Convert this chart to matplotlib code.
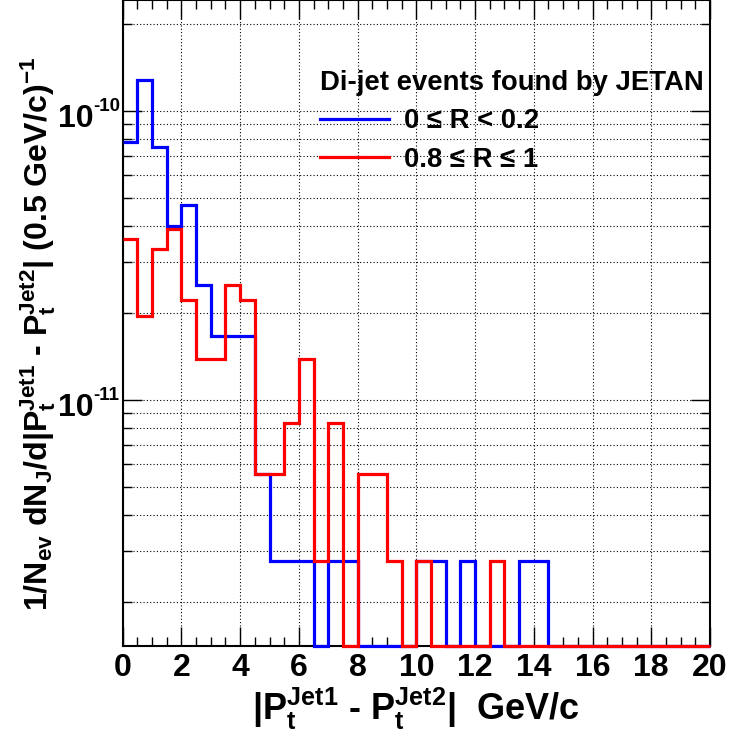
import numpy as np
import matplotlib
matplotlib.use('Agg')
import matplotlib.pyplot as plt
import matplotlib.transforms as mtransforms
from matplotlib.ticker import LogLocator, MultipleLocator, FixedLocator, FuncFormatter, NullFormatter

plt.rcParams['font.family'] = ['Liberation Sans', 'DejaVu Sans']
plt.rcParams['font.weight'] = 'bold'
plt.rcParams['axes.labelweight'] = 'bold'
plt.rcParams['mathtext.fontset'] = 'custom'
plt.rcParams['mathtext.rm'] = 'Liberation Sans:bold'
plt.rcParams['mathtext.bf'] = 'Liberation Sans:bold'
plt.rcParams['mathtext.it'] = 'Liberation Sans:bold'
plt.rcParams['mathtext.sf'] = 'Liberation Sans:bold'
plt.rcParams['mathtext.default'] = 'bf'

# ---- data ----
bin_edges = np.linspace(0.0, 20.0, 41)

blue_label = '0 \u2264 R < 0.2'
blue_values = [7.78e-11, 1.28e-10, 7.51e-11, 4.0e-11, 4.73e-11, 2.50e-11,
               1.67e-11, 1.67e-11, 1.67e-11, 5.56e-12, 2.78e-12, 2.78e-12,
               2.78e-12, 0, 2.78e-12, 2.78e-12, 0, 0, 0, 0,
               2.78e-12, 2.78e-12, 0, 2.78e-12, 0, 0, 0, 2.78e-12,
               2.78e-12, 0, 0, 0, 0, 0, 0, 0, 0, 0, 0, 0]

red_label = '0.8 \u2264 R \u2264 1'
red_values = [3.61e-11, 1.95e-11, 3.34e-11, 3.89e-11, 2.22e-11, 1.39e-11,
              1.39e-11, 2.50e-11, 2.22e-11, 5.56e-12, 5.56e-12, 8.34e-12,
              1.39e-11, 2.78e-12, 8.34e-12, 0, 5.56e-12, 5.56e-12, 2.78e-12, 0,
              2.78e-12, 0, 0, 0, 0, 2.78e-12, 0, 0, 0, 0,
              0, 0, 0, 0, 0, 0, 0, 0, 0, 0]

legend_title = 'Di-jet events found by JETAN'
x_ticks = [0, 2, 4, 6, 8, 10, 12, 14, 16, 18, 20]
y_major_ticks = [1e-11, 1e-10]
y_min, y_max = 1.41e-12, 2.42e-10

# ---- figure ----
fig = plt.figure(figsize=(7.29, 7.32), dpi=100)
ax = fig.add_axes([122.7 / 729, 86 / 732, 587.3 / 729, 646 / 732])
ax.set_yscale('log')
ax.set_xlim(0, 20)
ax.set_ylim(y_min, y_max)

def floor_zero(vals):
    v = np.asarray(vals, dtype=float)
    return np.where(v > 0, v, y_min)

hb = ax.stairs(floor_zero(blue_values), bin_edges, baseline=None, color='#0000ff',
               linewidth=2.3, zorder=3, clip_on=False, label=blue_label)
hr = ax.stairs(floor_zero(red_values), bin_edges, baseline=None, color='#ff0000',
               linewidth=2.3, zorder=4, clip_on=False, label=red_label)

# ticks & grid
ax.xaxis.set_major_locator(FixedLocator(x_ticks))
ax.xaxis.set_minor_locator(MultipleLocator(0.5))
ax.yaxis.set_major_locator(FixedLocator(y_major_ticks))
ax.yaxis.set_minor_locator(LogLocator(base=10, subs=np.arange(2, 10), numticks=50))
ax.grid(True, which='major', axis='x', color='black', linestyle=(0, (1, 2)), linewidth=0.8)
ax.grid(True, which='both', axis='y', color='black', linestyle=(0, (1, 2)), linewidth=0.8)
ax.set_axisbelow(True)

ax.yaxis.set_major_formatter(NullFormatter())
ax.yaxis.set_minor_formatter(NullFormatter())
ax.xaxis.set_major_formatter(FuncFormatter(lambda v, p: '%d' % v))

ax.tick_params(which='both', direction='in', top=True, right=True, width=1.0)
ax.tick_params(which='major', length=13.5)
ax.tick_params(which='minor', length=6.5)
ax.tick_params(axis='x', which='major', labelsize=23, pad=5)
for s in ax.spines.values():
    s.set_linewidth(1.5)

# y tick labels in ROOT style: "10" with a small superscript exponent
blend = mtransforms.blended_transform_factory(ax.transAxes, ax.transData)
for v in y_major_ticks:
    e = int(round(np.log10(v)))
    t_base = mtransforms.offset_copy(blend, fig=fig, x=-29, y=-16, units='dots')
    ax.text(0, v, '10', transform=t_base, ha='right', va='baseline',
            fontsize=23, fontweight='bold', clip_on=False)
    t_exp = mtransforms.offset_copy(blend, fig=fig, x=-29, y=0, units='dots')
    ax.text(0, v, '-%d' % abs(e), transform=t_exp, ha='left', va='baseline',
            fontsize=13.5, fontweight='bold', clip_on=False)

# titles
ax.set_xlabel(r'$|P_{t}^{Jet1}$ - $P_{t}^{Jet2}|$  GeV/c', fontsize=26,
              fontweight='bold', labelpad=2)
ax.set_ylabel(r'$1/N_{ev}$ $dN_{J}/d|P_{t}^{Jet1}$ - $P_{t}^{Jet2}|$ (0.5 GeV/c)$^{-1}$',
              fontsize=23.1, fontweight='bold')
ax.yaxis.set_label_coords(-0.110, 0.4837)

leg = ax.legend(handles=[hb, hr], title=legend_title, loc='upper left',
                bbox_to_anchor=(0.336, 0.8917), frameon=False, fontsize=19.8,
                title_fontproperties={'size': 19.8, 'weight': 'bold'},
                handlelength=2.5, handletextpad=0.55, labelspacing=0.45,
                borderpad=0, borderaxespad=0, alignment='left')

fig.savefig('out.png', dpi=100)
